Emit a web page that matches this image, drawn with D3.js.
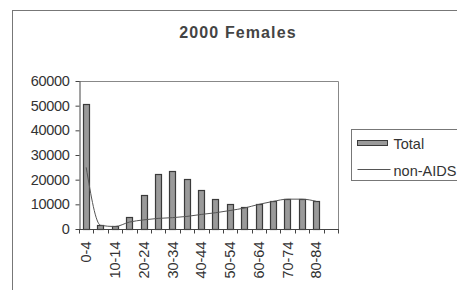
<!DOCTYPE html>
<html>
<head>
  <title>2000 Females</title>
  <style>
    body { margin: 0; background: #fff; }
    svg text { font-family: "Liberation Sans", Arial, sans-serif; fill: #333; }
    .tick text { font-size: 14.5px; }
    .axis path, .axis line { stroke: #444; }
  </style>
</head>
<body>
  <svg id="chart" width="457" height="290"></svg>

  <script src="https://d3js.org/d3.v7.min.js"></script>
  <script>
    // Age groups (last one has no data)
    const ageGroups = ["0-4", "5-9", "10-14", "15-19", "20-24", "25-29", "30-34", "35-39",
      "40-44", "45-49", "50-54", "55-59", "60-64", "65-69", "70-74", "75-79", "80-84", "85+"];

    // Total deaths (bars)
    const totalValues = [50500, 1600, 1200, 4800, 13800, 22300, 23500, 20300,
      15800, 12200, 10100, 8900, 10100, 11400, 12200, 12200, 11400, null];

    // non-AIDS deaths (smoothed line)
    const nonAidsValues = [25000, 1500, 1000, 2800, 3700, 4300, 4600, 5100,
      5900, 6600, 7500, 8500, 10000, 11200, 12100, 12100, 11200, null];

    const yTicks = [0, 10000, 20000, 30000, 40000, 50000, 60000];

    const svg = d3.select("#chart");

    // outer chart border
    svg.append("rect")
      .attr("x", 12.5).attr("y", 10.5)
      .attr("width", 470).attr("height", 300)
      .attr("fill", "none").attr("stroke", "#777");

    svg.append("text")
      .attr("x", 238).attr("y", 38)
      .attr("text-anchor", "middle")
      .style("font-size", "16px")
      .style("font-weight", "bold")
      .style("letter-spacing", "1.1px")
      .style("fill", "#444")
      .text("2000 Females");

    const plot = { left: 79, right: 338, top: 81, bottom: 229 };

    const x = d3.scaleBand()
      .domain(ageGroups)
      .range([plot.left, plot.right])
      .paddingInner(0.55)
      .paddingOuter(0.275);

    const xOuter = d3.scaleBand()
      .domain(ageGroups)
      .range([plot.left, plot.right]);

    const y = d3.scaleLinear()
      .domain([0, 60000])
      .range([plot.bottom, plot.top]);

    // plot frame (top and right)
    svg.append("path")
      .attr("d", `M${plot.left},${plot.top + 0.5}H${plot.right + 0.5}V${plot.bottom}`)
      .attr("fill", "none")
      .attr("stroke", "#888");

    // bars
    svg.selectAll(".bar")
      .data(ageGroups.map((g, i) => ({ g, v: totalValues[i] })).filter(d => d.v != null))
      .enter().append("rect")
      .attr("class", "bar")
      .attr("x", d => Math.round(x(d.g)) + 0.5)
      .attr("y", d => Math.round(y(d.v)) + 0.5)
      .attr("width", Math.round(x.bandwidth()))
      .attr("height", d => Math.round(y(0)) - Math.round(y(d.v)))
      .attr("fill", "#9a9a9a")
      .attr("stroke", "#3a3a3a")
      .attr("stroke-width", 1.2);

    // non-AIDS line
    const line = d3.line()
      .defined(d => d.v != null)
      .x(d => xOuter(d.g) + xOuter.bandwidth() / 2)
      .y(d => y(d.v))
      .curve(d3.curveMonotoneX);

    svg.append("path")
      .datum(ageGroups.map((g, i) => ({ g, v: nonAidsValues[i] })))
      .attr("d", line)
      .attr("fill", "none")
      .attr("stroke", "#555")
      .attr("stroke-width", 1);

    // y axis
    const yAxis = svg.append("g")
      .attr("class", "axis")
      .attr("transform", `translate(${plot.left + 0.5},0)`)
      .call(d3.axisLeft(y).tickValues(yTicks).tickSize(4).tickSizeOuter(0).tickPadding(6).tickFormat(d3.format("d")));
    yAxis.selectAll(".tick text").style("letter-spacing", "-0.3px");

    // x axis: ticks at band boundaries, every other label
    const xAxis = svg.append("g")
      .attr("class", "axis")
      .attr("transform", `translate(0,${plot.bottom + 0.5})`);
    xAxis.append("line")
      .attr("x1", plot.left).attr("x2", plot.right + 1)
      .attr("stroke", "#444");
    xAxis.selectAll(".xt")
      .data(ageGroups.concat(["end"]))
      .enter().append("line")
      .attr("x1", (d, i) => Math.round(plot.left + i * xOuter.bandwidth()) + 0.5)
      .attr("x2", (d, i) => Math.round(plot.left + i * xOuter.bandwidth()) + 0.5)
      .attr("y1", 0).attr("y2", 4)
      .attr("stroke", "#444");
    xAxis.selectAll(".xl")
      .data(ageGroups.filter((d, i) => i % 2 === 0))
      .enter().append("text")
      .attr("transform", d => `translate(${xOuter(d) + xOuter.bandwidth() / 2 + 5},12) rotate(-90)`)
      .attr("text-anchor", "end")
      .style("font-size", "14.5px")
      .text(d => d);

    // legend
    const legend = svg.append("g").attr("transform", "translate(351.5,129.5)");
    legend.append("rect")
      .attr("width", 130).attr("height", 51)
      .attr("fill", "#fff").attr("stroke", "#777");
    legend.append("rect")
      .attr("x", 6).attr("y", 11).attr("width", 30).attr("height", 5)
      .attr("fill", "#9a9a9a").attr("stroke", "#3a3a3a");
    legend.append("text")
      .attr("x", 42).attr("y", 19)
      .style("font-size", "14.5px")
      .text("Total");
    legend.append("line")
      .attr("x1", 6).attr("x2", 39).attr("y1", 40).attr("y2", 40)
      .attr("stroke", "#555");
    legend.append("text")
      .attr("x", 42).attr("y", 46)
      .style("font-size", "14.5px")
      .text("non-AIDS");
  </script>
</body>
</html>
